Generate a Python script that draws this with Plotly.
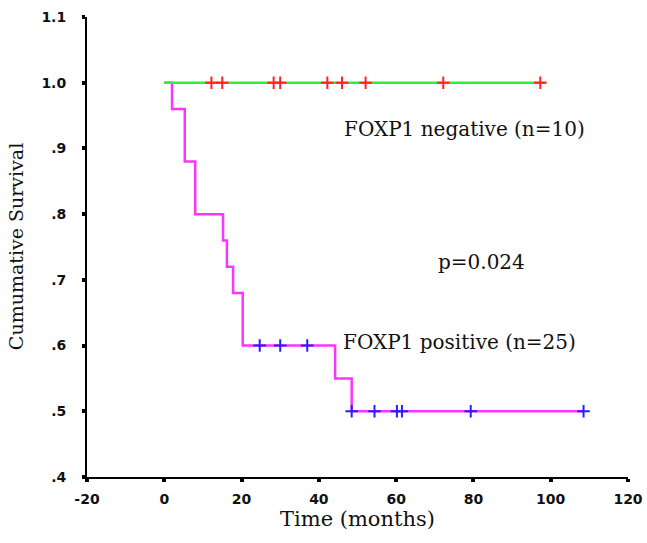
import plotly.graph_objects as go

# Kaplan-Meier step data (months, cumulative survival)
neg_times = [0, 98.8]
neg_surv = [1.0, 1.0]
neg_censor_times = [12.2, 15.0, 28.3, 30.0, 42.2, 46.0, 52.1, 72.2, 97.3]
neg_censor_surv = [1.0] * len(neg_censor_times)

pos_times = [0, 2.0, 5.3, 8.0, 15.2, 16.2, 17.8, 20.3, 44.2, 48.5, 108.5]
pos_surv = [1.0, 0.96, 0.88, 0.80, 0.76, 0.72, 0.68, 0.60, 0.55, 0.50, 0.50]
pos_censor_times = [24.7, 30.0, 37.0, 48.5, 54.4, 60.2, 61.5, 79.3, 108.5]
pos_censor_surv = [0.60, 0.60, 0.60, 0.50, 0.50, 0.50, 0.50, 0.50, 0.50]

x_ticks = [-20, 0, 20, 40, 60, 80, 100, 120]
x_ticktext = ["-20", "0", "20", "40", "60", "80", "100", "120"]
y_ticks = [0.4, 0.5, 0.6, 0.7, 0.8, 0.9, 1.0, 1.1]
y_ticktext = [".4", ".5", ".6", ".7", ".8", ".9", "1.0", "1.1"]

fig = go.Figure()
fig.add_trace(go.Scatter(x=pos_times, y=pos_surv, mode="lines", line_shape="hv",
                         line=dict(color="#FF33FF", width=2.5), showlegend=False))
fig.add_trace(go.Scatter(x=neg_times, y=neg_surv, mode="lines", line_shape="hv",
                         line=dict(color="#33EE33", width=2.5), showlegend=False))
fig.add_trace(go.Scatter(x=pos_censor_times, y=pos_censor_surv, mode="markers",
                         marker=dict(symbol="cross-thin", size=9,
                                     line=dict(color="#2222FF", width=2)),
                         showlegend=False))
fig.add_trace(go.Scatter(x=neg_censor_times, y=neg_censor_surv, mode="markers",
                         marker=dict(symbol="cross-thin", size=9,
                                     line=dict(color="#FF2222", width=2)),
                         showlegend=False))

serif = "DejaVu Serif"
ann_font = dict(family=serif, size=20, color="#111111")
fig.add_annotation(x=46.0, y=0.930, xref="x", yref="y", text="FOXP1 negative (n=10)",
                   showarrow=False, xanchor="left", yanchor="middle", font=ann_font)
fig.add_annotation(x=82, y=0.727, xref="x", yref="y", text="p=0.024",
                   showarrow=False, xanchor="center", yanchor="middle", font=ann_font)
fig.add_annotation(x=45.6, y=0.605, xref="x", yref="y", text="FOXP1 positive (n=25)",
                   showarrow=False, xanchor="left", yanchor="middle", font=ann_font)
# y-axis title
fig.add_annotation(x=-0.131, y=0.5, xref="paper", yref="paper", text="Cumumative Survival",
                   textangle=-90, showarrow=False, xanchor="center", yanchor="middle",
                   font=dict(family=serif, size=19, color="#111111"))

tick_font = dict(family="DejaVu Sans", size=14, color="#111111", weight="bold")

fig.update_layout(
    width=647, height=543,
    margin=dict(l=87, r=19, t=17, b=66, autoexpand=False),
    paper_bgcolor="white", plot_bgcolor="white",
    xaxis=dict(range=[-20, 120], tickvals=x_ticks, ticktext=x_ticktext,
               showgrid=False, zeroline=False,
               showline=True, linecolor="black", linewidth=2,
               ticks="outside", ticklen=3, tickwidth=4, tickcolor="black",
               ticklabelstandoff=5, ticklabeloverflow="allow",
               tickfont=tick_font,
               title=dict(text="Time (months)", font=dict(family=serif, size=21, color="#111111"),
                          standoff=5)),
    yaxis=dict(range=[0.4, 1.1], tickvals=y_ticks, ticktext=y_ticktext,
               showgrid=False, zeroline=False,
               showline=True, linecolor="black", linewidth=2,
               ticks="outside", ticklen=3, tickwidth=4, tickcolor="black",
               ticklabelstandoff=13,
               tickfont=tick_font),
)

fig.write_html("out.html", config={"displayModeBar": False},
               post_script="document.body.style.margin='0';")
